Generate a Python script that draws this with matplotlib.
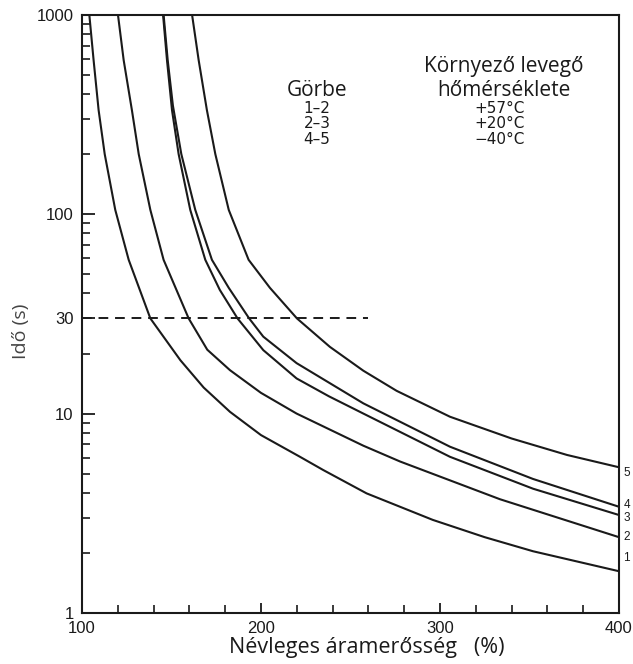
import numpy as np
import matplotlib.pyplot as plt
from matplotlib.ticker import FixedLocator, NullFormatter

# current (% of rated) and trip time (s) for the five curves
c1_i = [104.1, 106.5, 109.3, 112.7, 118.6, 126.1, 138.2, 155, 168, 182.7, 200, 221.8, 234.8, 259, 296, 325, 352, 400]
c1_t = [1000, 591, 332, 200, 105, 59, 30, 18.5, 13.5, 10.2, 7.8, 6.07, 5.21, 3.98, 2.93, 2.40, 2.04, 1.62]

c2_i = [120.1, 123.3, 127.9, 131.7, 138.2, 145.6, 159.6, 170, 182.7, 200, 219.9, 257.2, 277.7, 333.5, 400]
c2_t = [1000, 591, 332, 200, 105, 59, 30, 20.9, 16.5, 12.7, 10.0, 6.9, 5.75, 3.72, 2.40]

c3_i = [145.3, 147.5, 150.3, 154.0, 160.5, 168.9, 177, 186.9, 201.3, 219.9, 238, 257.2, 305.6, 352, 400]
c3_t = [1000, 591, 332, 200, 105, 59, 41.7, 30, 20.8, 15.0, 12.2, 10.0, 6.07, 4.2, 3.10]

c4_i = [145.6, 147.9, 150.8, 155.5, 163.3, 172.6, 182, 193.4, 201.3, 219.9, 257.2, 305.6, 352, 400]
c4_t = [1000, 591, 350, 200, 105, 59, 42.7, 30, 24.3, 17.9, 11.25, 6.82, 4.7, 3.41]

c5_i = [161.5, 165.2, 169.8, 174.5, 182.0, 193.1, 205, 220.1, 238.5, 257.2, 275.8, 305.6, 340, 371, 400]
c5_t = [1000, 591, 332, 200, 105, 59, 42.7, 30, 21.6, 16.4, 13.0, 9.64, 7.5, 6.2, 5.38]

curves = [(c1_i, c1_t), (c2_i, c2_t), (c3_i, c3_t), (c4_i, c4_t), (c5_i, c5_t)]
curve_names = ['1', '2', '3', '4', '5']
label_t = [1.89, 2.40, 2.99, 3.48, 5.03]

ref_time = 30
ref_i = [100, 260]

legend_rows = ['1\u20132', '2\u20133', '4\u20135']
legend_temps = ['+57\u00b0C', '+20\u00b0C', '\u221240\u00b0C']

ink = '#1a1a1a'

fig = plt.figure(figsize=(6.33, 6.64), dpi=100)
ax = fig.add_axes([0.1295, 0.0768, 0.8483, 0.9011])

for (xi, ti) in curves:
    ax.plot(xi, ti, color=ink, lw=1.5, solid_joinstyle='round')

ax.plot(ref_i, [ref_time, ref_time], color=ink, lw=1.4, dashes=(5, 3.5))

ax.set_yscale('log')
ax.set_xlim(100, 400)
ax.set_ylim(1, 1000)

ax.xaxis.set_major_locator(FixedLocator([100, 200, 300, 400]))
ax.xaxis.set_minor_locator(FixedLocator(np.arange(120, 400, 20)))
ax.set_xticklabels(['100', '200', '300', '400'])

ax.yaxis.set_major_locator(FixedLocator([1, 10, 30, 100, 1000]))
minor = [m * 10 ** k for k in range(3) for m in range(2, 10) if m * 10 ** k != 30]
ax.yaxis.set_minor_locator(FixedLocator(minor))
ax.yaxis.set_minor_formatter(NullFormatter())
ax.set_yticklabels(['1', '10', '30', '100', '1000'])

ax.tick_params(axis='both', which='major', direction='in', length=9, width=1.3,
               color=ink, labelsize=12, labelcolor=ink, pad=6)
ax.tick_params(axis='both', which='minor', direction='in', length=6, width=1.2, color=ink)
ax.tick_params(axis='x', which='major', length=7)
for lab in ax.get_xticklabels() + ax.get_yticklabels():
    lab.set_family('Liberation Sans')

for sp in ax.spines.values():
    sp.set_linewidth(1.5)
    sp.set_color(ink)

ax.set_xlabel('N\u00e9vleges \u00e1ramer\u0151ss\u00e9g   (%)', family='Open Sans',
              fontsize=15.5, color=ink)
ax.xaxis.set_label_coords(0.53, -0.04)
ax.set_ylabel('Id\u0151 (s)', family='Open Sans', fontsize=14, color='#444444')
ax.yaxis.set_label_coords(-0.097, 0.47)

# small curve numbers just right of the frame
for name, t in zip(curve_names, label_t):
    ax.text(1.008, t, name, transform=ax.get_yaxis_transform(), fontsize=8.5,
            family='Liberation Sans', color=ink, va='center', ha='left', clip_on=False)

# legend block
ax.text(0.4376, 0.8741, 'G\u00f6rbe', transform=ax.transAxes, fontsize=15,
        family='Open Sans', color=ink, ha='center', va='center')
ax.text(0.786, 0.9126, 'K\u00f6rnyez\u0151 leveg\u0151', transform=ax.transAxes, fontsize=15,
        family='Open Sans', color=ink, ha='center', va='center')
ax.text(0.786, 0.8741, 'h\u0151m\u00e9rs\u00e9klete', transform=ax.transAxes, fontsize=15,
        family='Open Sans', color=ink, ha='center', va='center')
row_y = [0.8424, 0.8173, 0.7922]
for y, r, tmp in zip(row_y, legend_rows, legend_temps):
    ax.text(0.4376, y, r, transform=ax.transAxes, fontsize=11,
            family='DejaVu Sans', color=ink, ha='center', va='center')
    ax.text(0.777, y, tmp, transform=ax.transAxes, fontsize=11,
            family='DejaVu Sans', color=ink, ha='center', va='center')

fig.savefig('out.png', dpi=100)
